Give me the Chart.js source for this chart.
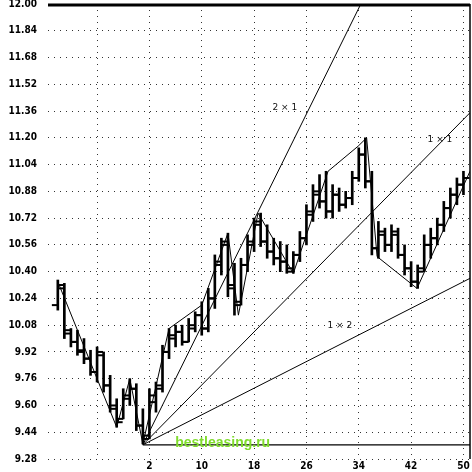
<!DOCTYPE html>
<html>
<head>
<meta charset="utf-8">
<script src="https://cdn.jsdelivr.net/npm/chart.js@4.4.1/dist/chart.umd.min.js"></script>
<style>
  html, body { margin: 0; padding: 0; background: #fff; }
  #wrap { width: 472px; height: 472px; }
</style>
</head>
<body>
<div id="wrap"><canvas id="gann" width="472" height="472"></canvas></div>
<script>
// bar positions and prices
const days   = [-12,-11,-10,-9,-8,-7,-6,-5,-4,-3,-2,-1,0,1,2,3,4,5,6,7,8,9,10,11,12,13,14,15,16,17,18,19,20,21,22,23,24,25,26,27,28,29,30,31,32,33,34,35,36,37,38,39,40,41,42,43,44,45,46,47,48,49,50];
const highs  = [10.35,10.33,10.06,10.05,10.00,9.93,9.95,9.92,9.78,9.64,9.70,9.76,9.73,9.58,9.70,9.74,9.96,10.06,10.08,10.08,10.12,10.16,10.22,10.30,10.50,10.60,10.63,10.45,10.48,10.62,10.72,10.75,10.68,10.60,10.58,10.56,10.52,10.64,10.80,10.92,10.98,11.00,10.92,10.90,10.88,11.00,11.14,11.20,11.00,10.70,10.66,10.68,10.66,10.56,10.46,10.44,10.62,10.66,10.72,10.82,10.90,10.96,11.00];
const lows   = [10.17,10.00,9.95,9.90,9.85,9.78,9.74,9.68,9.56,9.47,9.52,9.60,9.45,9.37,9.40,9.56,9.68,9.88,9.95,9.96,9.98,10.04,10.02,10.04,10.18,10.38,10.25,10.14,10.20,10.40,10.52,10.55,10.48,10.44,10.40,10.39,10.39,10.46,10.56,10.70,10.78,10.72,10.72,10.76,10.78,10.80,10.94,10.90,10.50,10.48,10.52,10.52,10.48,10.38,10.31,10.30,10.40,10.48,10.56,10.64,10.72,10.80,10.86];
const opens  = [10.20,10.30,10.05,9.98,9.92,9.88,9.80,9.90,9.72,9.58,9.52,9.64,9.70,9.48,9.42,9.62,9.70,9.92,10.00,10.04,9.98,10.06,10.14,10.06,10.24,10.44,10.58,10.32,10.22,10.44,10.56,10.70,10.58,10.52,10.48,10.46,10.40,10.50,10.60,10.74,10.86,10.82,10.76,10.86,10.80,10.84,10.96,11.10,10.94,10.54,10.62,10.56,10.62,10.50,10.42,10.34,10.42,10.56,10.60,10.68,10.78,10.86,10.92];
const closes = [10.32,10.03,9.98,9.93,9.88,9.80,9.92,9.72,9.60,9.50,9.66,9.70,9.48,9.40,9.66,9.72,9.92,10.02,10.04,9.98,10.08,10.14,10.06,10.24,10.46,10.56,10.30,10.20,10.44,10.58,10.68,10.58,10.52,10.48,10.46,10.42,10.50,10.60,10.76,10.88,10.82,10.76,10.86,10.80,10.84,10.96,11.10,10.94,10.54,10.64,10.56,10.64,10.50,10.42,10.34,10.40,10.56,10.60,10.68,10.78,10.86,10.92,10.96];

// swing line through the turning points
const swingX = [-12, -3, -1, 1, 5, 10, 14, 15.6, 18.6, 24, 29.3, 33.9, 35.2, 36.8, 42.9, 51];
const swingY = [10.34, 9.47, 9.76, 9.37, 10.06, 10.20, 10.63, 10.14, 10.75, 10.39, 11.00, 11.15, 11.20, 10.49, 10.30, 11.00];

// gann fan from the low
const fanX = [1, 51];
const fan2x1 = [9.365, 13.32];
const fan1x1 = [9.365, 11.35];
const fan1x2 = [9.365, 10.36];
const baseLine = [9.365, 9.365];

const xTicks = [-6, 2, 10, 18, 26, 34, 42, 50];
const yTicks = [9.28, 9.44, 9.60, 9.76, 9.92, 10.08, 10.24, 10.40, 10.56, 10.72, 10.88, 11.04, 11.20, 11.36, 11.52, 11.68, 11.84, 12.00];

const notes = [
  { text: '2 × 1', x: 22.7, y: 11.38, font: '9px "DejaVu Sans"', color: '#111' },
  { text: '1 × 1', x: 46.4, y: 11.19, font: '9px "DejaVu Sans"', color: '#111' },
  { text: '1 × 2', x: 31.1, y: 10.08, font: '9px "DejaVu Sans"', color: '#111' },
  { text: 'bestleasing.ru', x: 13.2, y: 9.375, font: 'bold 14px "Liberation Sans"', color: '#7fdc2c' }
];

const pts = (xs, ys) => xs.map((x, i) => ({ x: x, y: ys[i] }));

const notesPlugin = {
  id: 'notes',
  afterDatasetsDraw(chart) {
    const { ctx, scales, chartArea } = chart;
    ctx.save();
    // frame: heavy top edge, thin right edge
    ctx.strokeStyle = '#000';
    ctx.lineWidth = 3;
    ctx.beginPath();
    ctx.moveTo(chartArea.left, chartArea.top + 1);
    ctx.lineTo(chartArea.right, chartArea.top + 1);
    ctx.stroke();
    ctx.lineWidth = 1.5;
    ctx.beginPath();
    ctx.moveTo(chartArea.right, chartArea.top);
    ctx.lineTo(chartArea.right, chartArea.bottom);
    ctx.stroke();

    ctx.textAlign = 'center';
    ctx.textBaseline = 'middle';
    notes.forEach(n => {
      ctx.font = n.font;
      ctx.fillStyle = n.color;
      ctx.fillText(n.text, scales.x.getPixelForValue(n.x), scales.y.getPixelForValue(n.y));
    });
    ctx.restore();
  }
};

const tickFont = { family: '"DejaVu Sans Condensed", "Liberation Sans Narrow", sans-serif', size: 10, weight: 'bold' };
const dotted = { color: '#333', lineWidth: 1, drawTicks: false, offset: false };

const thin = (label, data, w) => ({
  type: 'line', label, data, borderColor: '#000', borderWidth: w,
  pointRadius: 0, tension: 0, fill: false, clip: 0
});

new Chart(document.getElementById('gann'), {
  type: 'bar',
  data: {
    datasets: [
      {
        type: 'bar', label: 'range',
        data: days.map((d, i) => ({ x: d, y: [lows[i], highs[i]] })),
        backgroundColor: '#000', barThickness: 2, grouped: false
      },
      {
        type: 'scatter', label: 'open',
        data: days.map((d, i) => ({ x: d - 0.45, y: opens[i] })),
        pointStyle: 'line', pointRadius: 3, borderColor: '#000', borderWidth: 2
      },
      {
        type: 'scatter', label: 'close',
        data: days.map((d, i) => ({ x: d + 0.45, y: closes[i] })),
        pointStyle: 'line', pointRadius: 3, borderColor: '#000', borderWidth: 2
      },
      thin('swing', pts(swingX, swingY), 1),
      thin('2x1', pts(fanX, fan2x1), 1),
      thin('1x1', pts(fanX, fan1x1), 1),
      thin('1x2', pts(fanX, fan1x2), 1),
      thin('base', pts(fanX, baseLine), 1.2)
    ]
  },
  options: {
    responsive: false,
    animation: false,
    layout: { autoPadding: false, padding: { top: 4, right: 2, left: 0, bottom: 0 } },
    plugins: { legend: { display: false }, tooltip: { enabled: false } },
    scales: {
      x: {
        type: 'linear', min: -13.5, max: 51, offset: false,
        afterBuildTicks: s => { s.ticks = xTicks.map(v => ({ value: v })); },
        afterFit: s => { s.height = 13; s.paddingLeft = 0; s.paddingRight = 0; },
        ticks: { color: '#000', font: tickFont, padding: 1, maxRotation: 0,
                 callback: v => v < 2 ? '' : String(v) },
        grid: dotted,
        border: { display: false, dash: [1, 5] }
      },
      y: {
        type: 'linear', min: 9.28, max: 12.0,
        afterBuildTicks: s => { s.ticks = yTicks.map(v => ({ value: v })); },
        afterFit: s => { s.width = 48; s.paddingTop = 0; s.paddingBottom = 0; },
        ticks: { color: '#000', font: tickFont, padding: 11, callback: v => v.toFixed(2) },
        grid: dotted,
        border: { display: false, dash: [1, 5] }
      }
    }
  },
  plugins: [notesPlugin]
});
</script>
</body>
</html>
